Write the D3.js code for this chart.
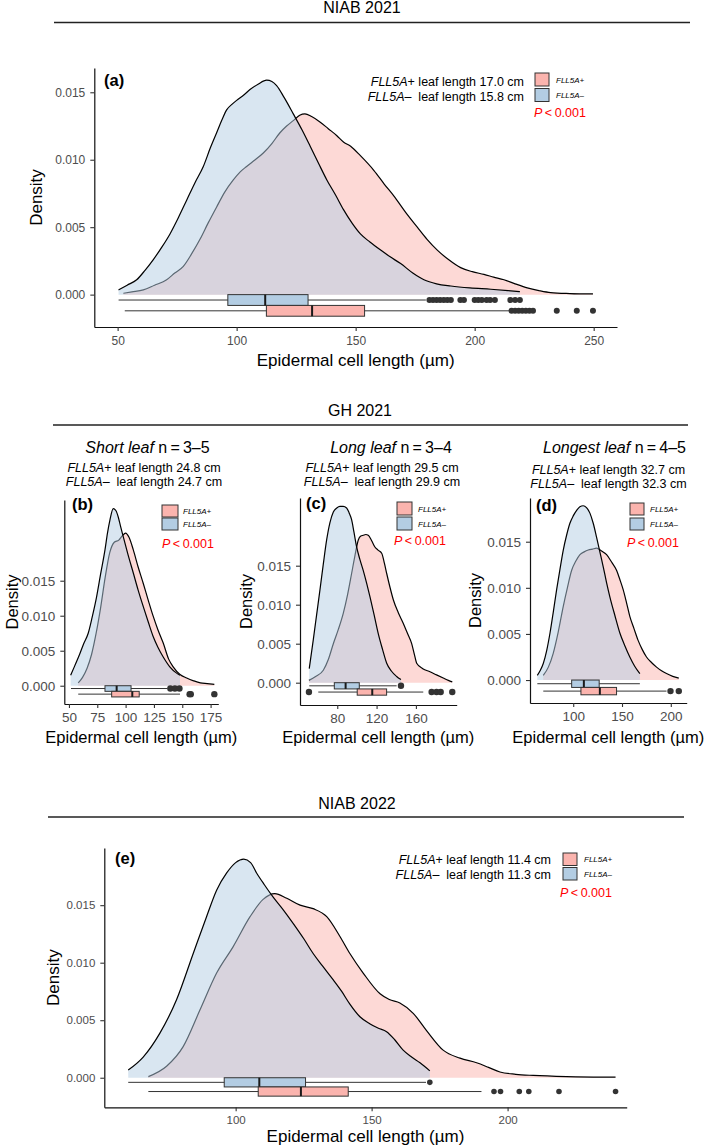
<!DOCTYPE html>
<html>
<head>
<meta charset="utf-8">
<script src="https://cdn.jsdelivr.net/npm/d3@7"></script>
<style>
  body { margin: 0; background: #fff; }
  svg { display: block; }
  text { font-family: "Liberation Sans", Arial, sans-serif; }
</style>
</head>
<body>
<div id="fig"></div>
<script>
// colores (Pastel1)
var plusFill = '#FBB4AE'
var minusFill = '#B3CDE3'

var yTicks = [0, 0.005, 0.01, 0.015]

// ---- (a) NIAB 2021 ----
var aTicksX = [50, 100, 150, 200, 250]
var aPlus = [[52.4,0.0001],[56,0.0002],[60.8,0.00035],[65.5,0.0007],[70.6,0.0011],[74,0.0016],[77.6,0.0021],[81,0.003],[84.6,0.0041],[88,0.0053],[91.6,0.0065],[95,0.0076],[98.6,0.0085],[101.5,0.0091],[104.2,0.0095],[107.8,0.01],[111.2,0.0105],[114.8,0.0112],[118.2,0.012],[121,0.0125],[123.8,0.0129],[126.5,0.0133],[128.7,0.0134],[131.5,0.0132],[135,0.0128],[138.5,0.0123],[142,0.0118],[145,0.0113],[147.9,0.011],[152,0.0103],[157.7,0.0092],[162,0.0082],[166.1,0.0073],[171,0.0061],[175.9,0.005],[180,0.0041],[184.3,0.0033],[189,0.0026],[194.1,0.002],[199,0.0017],[203.9,0.0015],[208,0.0013],[212.3,0.0011],[217,0.0008],[222.1,0.0005],[227,0.0003],[231.9,0.00015],[240,0.00008],[249.7,0.00005]]
var aMinus = [[50.4,0.00035],[54,0.0007],[58,0.0011],[61.5,0.0018],[65,0.0026],[68.5,0.0035],[72,0.0045],[75.5,0.0057],[79,0.007],[82.5,0.0083],[86,0.0095],[89,0.0109],[91.6,0.012],[93.7,0.0129],[95.8,0.0137],[98,0.0141],[100,0.0144],[103,0.0148],[105.6,0.0152],[109,0.0156],[112.6,0.0159],[114.8,0.0158],[116.8,0.0155],[120,0.0146],[123.8,0.0134],[127.5,0.0122],[130.9,0.011],[134.5,0.0097],[137.9,0.0085],[141.5,0.0074],[144.9,0.0063],[148.5,0.0053],[152,0.0045],[156,0.0039],[160.5,0.0033],[164.5,0.0028],[168.9,0.0023],[174,0.0016],[178.7,0.0011],[184,0.0008],[190,0.00064],[198,0.0005],[206.8,0.0004],[214,0.0003],[219,0.00022]]
var aBoxPlus = [53, 112.5, 131.7, 153.75, 214.5]
var aBoxMinus = [50.4, 96.3, 112, 130, 179.5]
var aOutPlus = [215.5, 217, 218.5, 220, 221.5, 223, 224.5, 234.5, 242.9, 249.7]
var aOutMinus = [181, 182.5, 184, 185.5, 187, 188.5, 190, 194, 195.5, 200, 201.5, 203, 205, 206.5, 208.5, 215, 217, 219]

// ---- (b) GH 2021 short leaf ----
var bTicksX = [50, 75, 100, 125, 150, 175]
var bPlus = [[58.2,0.0004],[62,0.0012],[66,0.0025],[70,0.0045],[74,0.0075],[78,0.0112],[82,0.0155],[86,0.019],[90,0.0205],[94,0.0208],[97,0.0214],[100,0.0218],[103,0.0212],[106.8,0.0194],[111,0.017],[115.6,0.0146],[120,0.0122],[124.4,0.0099],[128.5,0.008],[133.2,0.0061],[138,0.0038],[142,0.0027],[148,0.0016],[153.9,0.0011],[160,0.0007],[166,0.0004],[172,0.0003],[178.3,0.0002]]
var bMinus = [[51.5,0.0015],[55,0.0028],[59.7,0.0046],[63,0.006],[67,0.0075],[70.5,0.0098],[74.4,0.0127],[78,0.016],[81.8,0.0194],[84,0.0218],[86.2,0.0237],[89.1,0.0253],[91.5,0.025],[93.5,0.0241],[95.5,0.0228],[97.9,0.0213],[102,0.0188],[106.8,0.0161],[111,0.0137],[115.6,0.0113],[120,0.0091],[124.4,0.007],[128.5,0.0055],[133.2,0.0041],[139,0.0027],[145,0.0018],[148,0.0015]]
var bBoxPlus = [58.2, 87.7, 105.9, 112, 148]
var bBoxMinus = [51.8, 81.8, 92.1, 104.8, 137]
var bOutPlus = [156.5, 157.5, 178.3]
var bOutMinus = [139.5, 143.5, 147.5]

// ---- (c) GH 2021 long leaf ----
var cTicksX = [80, 120, 160]
var cPlus = [[51.2,0.0003],[58,0.0008],[65.8,0.0016],[71,0.003],[76,0.005],[81,0.0068],[86.1,0.0089],[90.5,0.0113],[94.6,0.014],[98,0.0163],[101.4,0.0183],[104,0.0188],[106.4,0.0189],[109,0.019],[111.5,0.0189],[115,0.0182],[118.3,0.0174],[121.5,0.017],[125.2,0.0166],[128,0.0153],[130.3,0.014],[133.5,0.0123],[137.1,0.0106],[142,0.009],[147.2,0.0076],[151.5,0.0063],[155.7,0.005],[158.5,0.0036],[160.8,0.0025],[167,0.0018],[174.3,0.0014],[181,0.001],[187.8,0.0006],[193,0.0003],[197,0.0001]]
var cMinus = [[51.5,0.0018],[55.6,0.0055],[59,0.0087],[62.4,0.0119],[65.8,0.0152],[69.2,0.0183],[72.5,0.0205],[76,0.0219],[79.5,0.0224],[82.7,0.0226],[86,0.0226],[89.5,0.0224],[92,0.0218],[94.6,0.0209],[97,0.0193],[99.7,0.0174],[103,0.0158],[106.4,0.0144],[110,0.0127],[113.3,0.011],[117.5,0.0087],[121.7,0.0063],[126,0.0043],[130.3,0.0025],[135,0.0015],[140.4,0.0008],[144.8,0.0004]]
var cBoxPlus = [60.7, 100.3, 115.6, 130.2, 167.5]
var cBoxMinus = [51.5, 77, 88.5, 102.4, 140.4]
var cOutPlus = [51.2, 176, 181, 185.2, 197]
var cOutMinus = [144.8]

// ---- (d) GH 2021 longest leaf ----
var dTicksX = [100, 150, 200]
var dPlus = [[69.3,0.0005],[74.5,0.0014],[79.5,0.0029],[84.6,0.0052],[89.8,0.008],[94,0.01],[98.4,0.0119],[102.7,0.0129],[106.9,0.0136],[111.2,0.0139],[115.4,0.0141],[119.7,0.0142],[123.9,0.0143],[129,0.014],[134.2,0.0136],[139.3,0.0128],[144.4,0.0119],[147.8,0.0109],[151.2,0.0098],[154.6,0.0084],[158,0.0069],[162.2,0.0056],[166.5,0.0043],[170.8,0.0033],[175.1,0.0025],[180.2,0.0019],[185.4,0.0014],[190.5,0.001],[195.6,0.0007],[202,0.0004],[208.2,0.0002]]
var dMinus = [[63.2,0.0005],[66,0.001],[69.3,0.0018],[72.8,0.0032],[76.2,0.0051],[79.6,0.0074],[83,0.0098],[86.4,0.012],[89.8,0.0141],[93.2,0.0157],[96.6,0.017],[100,0.0178],[103.5,0.0184],[106.8,0.0188],[110.2,0.0189],[113.6,0.0187],[117.1,0.0181],[120.5,0.017],[123.9,0.0155],[127.3,0.0139],[130.7,0.0123],[134.1,0.0106],[137.6,0.009],[142.7,0.007],[147.8,0.0051],[153,0.0037],[158,0.0025],[163,0.0015],[168.3,0.0007]]
var dBoxPlus = [69.3, 107.9, 127.3, 144.4, 195.6]
var dBoxMinus = [63.2, 98.4, 110.9, 126.6, 168.3]
var dOutPlus = [199.7, 208.2]
var dOutMinus = []

// ---- (e) NIAB 2022 ----
var eTicksX = [100, 150, 200]
var ePlus = [[67.9,0.0001],[74.6,0.001],[80.7,0.0027],[86.9,0.0059],[93,0.0091],[99.1,0.0114],[105.3,0.014],[110.1,0.0155],[114.4,0.016],[118.8,0.0156],[123.7,0.015],[128.5,0.0147],[133.5,0.014],[138.3,0.0123],[142,0.0108],[146.9,0.0091],[153.1,0.0073],[156.5,0.0068],[160.4,0.0065],[165.3,0.0056],[170.2,0.0041],[176.3,0.0024],[182.5,0.0017],[188.6,0.0013],[193,0.0009],[197.2,0.0005],[203,0.0003],[209.4,0.0002],[221.7,0.0001],[239.7,0.00005]]
var eMinus = [[60.5,0.00067],[66,0.0018],[72.2,0.0039],[78.3,0.0068],[84.4,0.0108],[89.3,0.014],[93,0.0163],[96.7,0.0178],[100,0.0187],[103,0.019],[105.5,0.0187],[107.7,0.0178],[110.5,0.0168],[113.8,0.0157],[117.5,0.0146],[121.2,0.0134],[125,0.0121],[128.5,0.0108],[132,0.0097],[135.9,0.0085],[139,0.0075],[142,0.0064],[145.7,0.0053],[149.3,0.0047],[152.5,0.0043],[155.5,0.004],[158.5,0.0033],[161.6,0.0024],[164.7,0.0018],[167.8,0.0013],[171.4,0.0006]]
var eBoxPlus = [67.9, 108.3, 124, 141.4, 190.4]
var eBoxMinus = [60.5, 95.8, 108.7, 125.7, 170]
var eOutPlus = [195, 197.4, 204.3, 207.8, 218.9, 239.7]
var eOutMinus = [171.4]

var width = 709
var height = 1147

var svg = d3.select('#fig').append('svg').attr('width', width).attr('height', height)

// filas de los boxplots bajo la densidad (unidades de densidad)
var minusRow = -0.0004
var plusRow = -0.0012
var boxHalf = 0.0004

function richText(g, x, y, parts, size, anchor, color) {
  var t = g.append('text').attr('x', x).attr('y', y)
    .attr('text-anchor', anchor || 'start')
    .style('font-size', size + 'px')
    .attr('fill', color || '#000')
  parts.forEach(function (p) {
    t.append('tspan').text(p[0]).style('font-style', p[1] ? 'italic' : 'normal')
  })
  return t
}

function drawBox(g, x, y, s, outs, row, fill, r) {
  var yc = y(row), yt = y(row + boxHalf), yb = y(row - boxHalf)
  g.append('line')
    .attr('x1', x(s[0])).attr('x2', x(s[4]))
    .attr('y1', yc).attr('y2', yc)
    .attr('stroke', '#333').attr('stroke-width', 1)
  g.append('rect')
    .attr('x', x(s[1])).attr('width', x(s[3]) - x(s[1]))
    .attr('y', yt).attr('height', yb - yt)
    .attr('fill', fill).attr('stroke', '#333').attr('stroke-width', 1)
  g.append('line')
    .attr('x1', x(s[2])).attr('x2', x(s[2]))
    .attr('y1', yt).attr('y2', yb)
    .attr('stroke', '#1a1a1a').attr('stroke-width', 2)
  g.selectAll(null).data(outs).enter().append('circle')
    .attr('cx', function (d) { return x(d) })
    .attr('cy', yc)
    .attr('r', r)
    .attr('fill', '#333')
}

function drawPanel(p) {
  var g = svg.append('g')
  var x = d3.scaleLinear().domain(p.xDomain).range([p.left, p.right])
  var y = d3.scaleLinear().domain(p.yDomain).range([p.bottom, p.top])

  var area = d3.area()
    .x(function (d) { return x(d[0]) })
    .y0(y(0))
    .y1(function (d) { return y(d[1]) })
    .curve(d3.curveMonotoneX)
  var line = d3.line()
    .x(function (d) { return x(d[0]) })
    .y(function (d) { return y(d[1]) })
    .curve(d3.curveMonotoneX)

  // FLL5A+ primero, FLL5A- encima con transparencia
  g.append('path').datum(p.plus).attr('d', area).attr('fill', plusFill).attr('fill-opacity', 0.5)
  g.append('path').datum(p.plus).attr('d', line).attr('fill', 'none').attr('stroke', '#000').attr('stroke-width', 1.2)
  g.append('path').datum(p.minus).attr('d', area).attr('fill', minusFill).attr('fill-opacity', 0.5)
  g.append('path').datum(p.minus).attr('d', line).attr('fill', 'none').attr('stroke', '#000').attr('stroke-width', 1.2)

  drawBox(g, x, y, p.boxMinus, p.outMinus, minusRow, minusFill, p.dot)
  drawBox(g, x, y, p.boxPlus, p.outPlus, plusRow, plusFill, p.dot)

  // ejes
  var xAxis = d3.axisBottom(x).tickValues(p.xTicks).tickSize(4).tickSizeOuter(0).tickPadding(p.xPad)
  var yAxis = d3.axisLeft(y).tickValues(yTicks).tickFormat(d3.format('.3f')).tickSize(4).tickSizeOuter(0).tickPadding(5)

  var gx = g.append('g').attr('transform', 'translate(0,' + p.bottom + ')').call(xAxis)
  var gy = g.append('g').attr('transform', 'translate(' + p.left + ',0)').call(yAxis)
  ;[gx, gy].forEach(function (a) {
    a.select('.domain').attr('stroke', '#111').attr('stroke-width', 1.2)
    a.selectAll('.tick line').attr('stroke', '#333').attr('stroke-width', 1.1)
    a.selectAll('.tick text').attr('fill', '#4D4D4D')
      .style('font-size', p.tickFont + 'px')
      .style('font-family', '"Liberation Sans", Arial, sans-serif')
  })

  // titulos de ejes
  g.append('text')
    .attr('x', (p.left + p.right) / 2)
    .attr('y', p.xLabelY)
    .attr('text-anchor', 'middle')
    .style('font-size', p.labelFont + 'px')
    .text('Epidermal cell length (µm)')
  g.append('text')
    .attr('transform', 'translate(' + p.densX + ',' + (p.top + p.bottom) / 2 + ') rotate(-90)')
    .attr('text-anchor', 'middle')
    .attr('dy', '0.35em')
    .style('font-size', p.labelFont + 'px')
    .text('Density')

  // etiqueta del panel
  g.append('text')
    .attr('x', p.tag[1]).attr('y', p.tag[2])
    .style('font-size', '16.5px').style('font-weight', 'bold')
    .text(p.tag[0])

  // leyenda
  var k = p.key
  g.append('rect').attr('x', k.x).attr('y', k.y1).attr('width', k.w).attr('height', k.h)
    .attr('fill', plusFill).attr('stroke', '#333').attr('stroke-width', 1)
  g.append('rect').attr('x', k.x).attr('y', k.y2).attr('width', k.w).attr('height', k.h)
    .attr('fill', minusFill).attr('stroke', '#333').attr('stroke-width', 1)
  richText(g, k.lx, k.y1 + k.h / 2 + 3, [['FLL5A+', true]], 8)
  richText(g, k.lx, k.y2 + k.h / 2 + 3, [['FLL5A\u2013', true]], 8)
  richText(g, k.px, k.py, [['P', true], ['\u2009<\u20090.001', false]], 12.5, 'start', '#FF0000')

  // texto de longitud de hoja
  richText(g, p.len.x, p.len.y1, [['FLL5A', true], ['+ leaf length ' + p.len.plus + ' cm', false]], 12.5, p.len.anchor)
  richText(g, p.len.x, p.len.y2, [['FLL5A\u2013', true], ['  leaf length ' + p.len.minus + ' cm', false]], 12.5, p.len.anchor)
  g.selectAll('text').style('white-space', 'pre')
}

function sectionTitle(label, cx, y, lx1, lx2, ly) {
  svg.append('text').attr('x', cx).attr('y', y).attr('text-anchor', 'middle')
    .style('font-size', '16px').text(label)
  svg.append('line').attr('x1', lx1).attr('x2', lx2).attr('y1', ly).attr('y2', ly)
    .attr('stroke', '#222').attr('stroke-width', 1.3)
}

sectionTitle('NIAB 2021', 362, 13, 54, 690, 22.5)
sectionTitle('GH 2021', 360, 416, 53, 688, 425)
sectionTitle('NIAB 2022', 357, 809, 48, 684, 817)

drawPanel({
  left: 94.3, right: 617, top: 68, bottom: 327,
  xDomain: [40.2, 259.8], yDomain: [-0.0024, 0.0168],
  xTicks: aTicksX, plus: aPlus, minus: aMinus,
  boxPlus: aBoxPlus, boxMinus: aBoxMinus, outPlus: aOutPlus, outMinus: aOutMinus,
  dot: 3, tickFont: 12, xPad: 5.5, labelFont: 17, xLabelY: 366, densX: 36,
  tag: ['(a)', 104, 86],
  key: { x: 535, y1: 73, y2: 88.5, w: 14, h: 13, lx: 556, px: 534, py: 116.5 },
  len: { x: 524, y1: 85.5, y2: 100.5, anchor: 'end', plus: '17.0', minus: '15.8' }
})

drawPanel({
  left: 64.3, right: 218.3, top: 500, bottom: 704,
  xDomain: [45.9, 181.8], yDomain: [-0.00261, 0.02653],
  xTicks: bTicksX, plus: bPlus, minus: bMinus,
  boxPlus: bBoxPlus, boxMinus: bBoxMinus, outPlus: bOutPlus, outMinus: bOutMinus,
  dot: 3.2, tickFont: 13.5, xPad: 4, labelFont: 16.5, xLabelY: 743, densX: 12,
  tag: ['(b)', 72, 510],
  key: { x: 162, y1: 505, y2: 518, w: 16, h: 12, lx: 183, px: 162, py: 547.5 },
  len: { x: 144, y1: 471.5, y2: 485.5, anchor: 'middle', plus: '24.8', minus: '24.7' }
})

drawPanel({
  left: 300, right: 456.7, top: 498, bottom: 705,
  xDomain: [42.1, 201.5], yDomain: [-0.00286, 0.02368],
  xTicks: cTicksX, plus: cPlus, minus: cMinus,
  boxPlus: cBoxPlus, boxMinus: cBoxMinus, outPlus: cOutPlus, outMinus: cOutMinus,
  dot: 3.2, tickFont: 13.5, xPad: 4, labelFont: 16.5, xLabelY: 743, densX: 246,
  tag: ['(c)', 306, 509],
  key: { x: 397, y1: 502, y2: 517, w: 15, h: 13, lx: 418, px: 394, py: 544.5 },
  len: { x: 382, y1: 471.5, y2: 485.5, anchor: 'middle', plus: '29.5', minus: '29.9' }
})

drawPanel({
  left: 530, right: 686.7, top: 498, bottom: 703,
  xDomain: [55.7, 216.3], yDomain: [-0.00249, 0.01974],
  xTicks: dTicksX, plus: dPlus, minus: dMinus,
  boxPlus: dBoxPlus, boxMinus: dBoxMinus, outPlus: dOutPlus, outMinus: dOutMinus,
  dot: 3.2, tickFont: 13.5, xPad: 4, labelFont: 16.5, xLabelY: 743, densX: 475,
  tag: ['(d)', 536, 511],
  key: { x: 630, y1: 503, y2: 518, w: 14, h: 12, lx: 650, px: 627, py: 546.5 },
  len: { x: 608.5, y1: 473.5, y2: 487.5, anchor: 'middle', plus: '32.7', minus: '32.3' }
})

drawPanel({
  left: 104.3, right: 626.7, top: 848, bottom: 1107.3,
  xDomain: [51.7, 243.8], yDomain: [-0.00257, 0.01997],
  xTicks: eTicksX, plus: ePlus, minus: eMinus,
  boxPlus: eBoxPlus, boxMinus: eBoxMinus, outPlus: eOutPlus, outMinus: eOutMinus,
  dot: 2.8, tickFont: 11.5, xPad: 5, labelFont: 17, xLabelY: 1142, densX: 53,
  tag: ['(e)', 115, 864],
  key: { x: 563, y1: 853, y2: 867.5, w: 14, h: 12.5, lx: 584, px: 560, py: 896.5 },
  len: { x: 551, y1: 863.5, y2: 878.5, anchor: 'end', plus: '11.4', minus: '11.3' }
})

// subtitulos de GH 2021
var ghTitles = [['Short leaf', '3\u20135', 147.5], ['Long leaf', '3\u20134', 391], ['Longest leaf', '4\u20135', 614.5]]
ghTitles.forEach(function (t) {
  richText(svg, t[2], 452.5, [[t[0], true], [' n\u2009=\u2009' + t[1], false]], 16, 'middle')
})
</script>
</body>
</html>
